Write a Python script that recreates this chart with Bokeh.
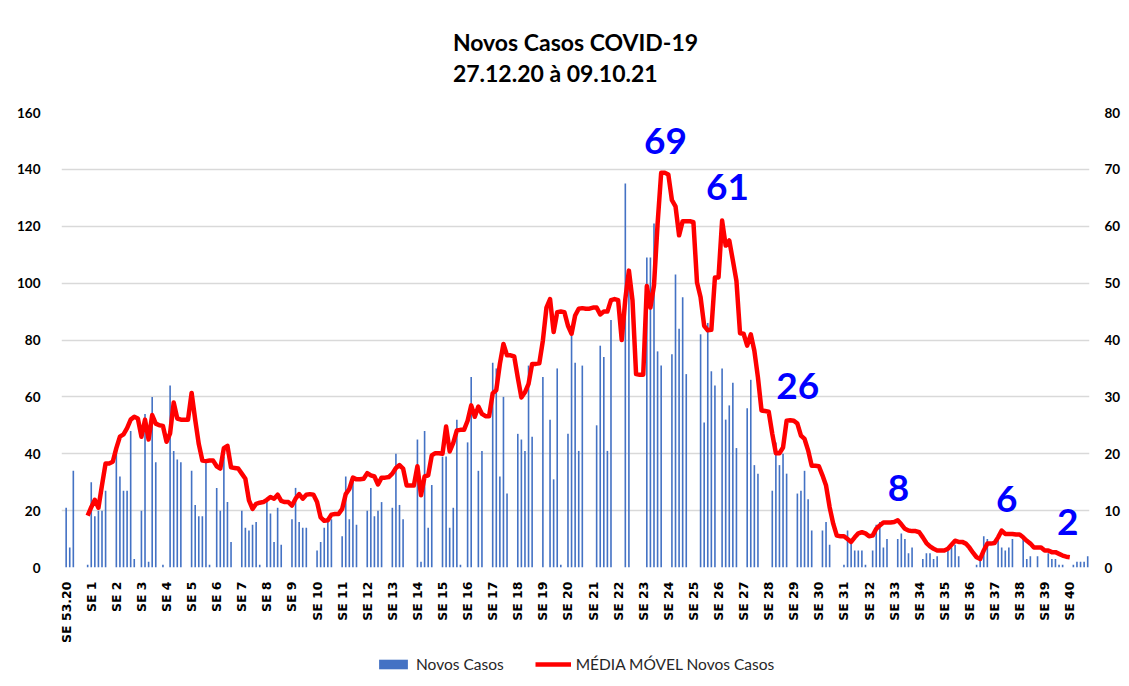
import math
from bokeh.plotting import figure
from bokeh.layouts import column
from bokeh.models import (Range1d, LinearAxis, FixedTicker, Legend, LegendItem,
                          ColumnDataSource)
from bokeh.core.properties import value
from bokeh.embed import file_html
from bokeh.resources import INLINE

# ---------------- data ----------------
week_labels = ["SE 53.20", "SE 1", "SE 2", "SE 3", "SE 4", "SE 5", "SE 6", "SE 7", "SE 8",
               "SE 9", "SE 10", "SE 11", "SE 12", "SE 13", "SE 14", "SE 15", "SE 16",
               "SE 17", "SE 18", "SE 19", "SE 20", "SE 21", "SE 22", "SE 23", "SE 24",
               "SE 25", "SE 26", "SE 27", "SE 28", "SE 29", "SE 30", "SE 31", "SE 32",
               "SE 33", "SE 34", "SE 35", "SE 36", "SE 37", "SE 38", "SE 39", "SE 40"]

novos_casos = [
    21, 7, 34, 0, 0, 0, 1,
    30, 18, 20, 20, 27, 0, 0,
    43, 32, 27, 27, 48, 3, 0,
    20, 54, 2, 60, 37, 0, 1,
    0, 64, 41, 38, 37, 0, 0,
    34, 22, 18, 18, 37, 1, 0,
    28, 20, 39, 23, 9, 0, 0,
    20, 14, 13, 15, 16, 1, 0,
    23, 19, 9, 21, 8, 0, 0,
    17, 28, 16, 14, 14, 0, 0,
    6, 9, 14, 17, 17, 0, 0,
    11, 32, 17, 31, 15, 0, 0,
    20, 28, 18, 20, 23, 0, 0,
    21, 40, 22, 17, 0, 0, 0,
    45, 2, 48, 14, 29, 0, 0,
    39, 39, 14, 21, 52, 1, 0,
    44, 67, 0, 34, 41, 0, 0,
    72, 70, 32, 60, 26, 0, 0,
    47, 45, 41, 71, 46, 0, 0,
    67, 0, 52, 31, 70, 1, 0,
    47, 82, 72, 41, 71, 0, 0,
    0, 50, 78, 74, 41, 87, 0,
    0, 0, 135, 99, 0, 0, 0,
    0, 109, 109, 121, 76, 71, 0,
    0, 75, 103, 84, 95, 68, 0,
    0, 0, 82, 51, 86, 69, 64,
    0, 70, 52, 57, 65, 42, 0,
    0, 56, 66, 36, 33, 0, 0,
    0, 27, 44, 36, 40, 33, 0,
    0, 26, 27, 34, 24, 13, 0,
    0, 13, 16, 8, 0, 0, 0,
    1, 13, 9, 6, 6, 6, 1,
    0, 6, 15, 16, 7, 10, 0,
    0, 10, 12, 10, 5, 7, 0,
    0, 3, 5, 5, 3, 4, 0,
    0, 6, 7, 8, 4, 0, 0,
    0, 0, 1, 3, 11, 10, 0,
    0, 10, 7, 6, 7, 10, 0,
    0, 10, 3, 4, 0, 4, 0,
    0, 5, 3, 3, 1, 1, 0,
    0, 1, 2, 2, 2, 4, 0,
]

nan = float("nan")
media_movel = [
    nan, nan, nan, nan, nan, nan, 9.1,
    10.6, 11.9, 10.5, 14.5, 18.3, 18.3, 18.6,
    21.0, 23.0, 23.4, 24.5, 26.0, 26.5, 26.2,
    23.0, 26.0, 22.5, 26.8, 25.3, 25.0, 24.9,
    22.1, 23.6, 29.0, 26.2, 26.0, 26.0, 26.0,
    30.7, 26.0, 21.7, 18.8, 18.7, 18.8, 18.8,
    17.8, 17.4, 21.0, 21.4, 17.6, 17.5, 17.4,
    16.5, 15.6, 11.8, 10.3, 11.2, 11.4, 11.5,
    11.9, 12.4, 12.1, 12.8, 11.7, 11.5, 11.5,
    10.9, 12.1, 12.9, 12.1, 12.8, 12.9, 12.8,
    11.5, 8.8, 8.2, 8.3, 9.3, 9.4, 9.4,
    10.3, 12.9, 13.8, 15.8, 15.5, 15.5, 15.6,
    16.6, 16.2, 16.0, 14.6, 15.8, 15.8, 15.9,
    16.5, 17.5, 18.0, 17.4, 14.4, 14.4, 14.4,
    17.8, 12.7, 16.0, 16.2, 19.7, 20.1, 20.1,
    20.0, 24.8, 20.4, 21.9, 24.1, 24.2, 24.2,
    25.8, 28.5, 26.5, 28.3, 27.0, 26.6, 26.6,
    30.6, 31.2, 35.8, 39.3, 37.3, 37.3, 37.1,
    33.4, 29.9, 30.8, 32.3, 35.8, 35.8, 35.9,
    39.9, 45.7, 47.2, 41.4, 44.9, 45.0, 44.9,
    42.5, 41.1, 44.3, 45.5, 45.6, 45.5, 45.5,
    45.7, 45.7, 44.5, 45.0, 45.0, 47.0, 47.2,
    47.0, 40.0, 47.2, 52.2, 47.0, 34.0, 33.9,
    33.9, 49.5, 45.7, 49.6, 60.4, 69.4, 69.4,
    69.1, 64.6, 63.5, 58.4, 60.9, 60.9, 60.9,
    60.7, 50.1, 47.5, 42.5, 41.7, 41.8, 51.0,
    51.0, 61.0, 56.6, 57.5, 54.0, 50.4, 41.2,
    41.1, 39.0, 41.0, 38.1, 33.4, 27.6, 27.5,
    27.4, 23.5, 20.1, 20.1, 21.1, 25.8, 25.9,
    25.8, 25.3, 23.2, 22.6, 20.6, 17.9, 17.9,
    17.8, 16.2, 14.4, 10.6, 7.7, 5.6, 5.5,
    5.5, 5.0, 4.5, 5.3, 6.0, 6.2, 6.0,
    5.5, 5.6, 6.8, 7.4, 7.9, 7.9, 7.9,
    8.0, 8.3, 7.6, 6.8, 6.5, 6.4, 6.4,
    6.2, 5.3, 4.3, 3.7, 3.3, 3.0, 3.0,
    3.0, 3.3, 4.0, 4.7, 4.5, 4.5, 4.2,
    3.5, 2.6, 1.8, 1.5, 3.0, 4.2, 4.2,
    4.3, 5.3, 6.5, 5.9, 5.9, 5.9, 5.8,
    5.8, 5.3, 4.7, 4.2, 3.5, 3.5, 3.5,
    3.0, 3.0, 2.7, 2.7, 2.4, 2.1, 1.9,
    1.8, nan, nan, nan, nan, nan, nan,
]

annot_days = [167.2, 184.5, 204.1, 232.2, 262.4, 279.4]
annot_values = [69, 61, 26, 8, 6, 2]

days = list(range(len(novos_casos)))

# ---------------- main figure ----------------
FONT = "Lato"
BAR_COLOR = "#4472C4"
LINE_COLOR = "#FF0000"

p = figure(width=1129, height=650,
           x_range=Range1d(-1.3, 285.5), y_range=Range1d(0, 160),
           output_backend="svg", toolbar_location=None,
           min_border_left=61, min_border_right=40, min_border_top=112,
           min_border_bottom=83)
p.outline_line_color = None
p.background_fill_color = "white"
p.border_fill_color = "white"

p.title.text = "Novos Casos COVID-19\n27.12.20 à 09.10.21"
p.title.align = "center"
p.title.text_font = FONT
p.title.text_font_size = "23px"
p.title.text_font_style = "bold"
p.title.text_color = "#000000"
p.title.text_line_height = 1.1
p.title.standoff = 51

src = ColumnDataSource(dict(day=days, casos=novos_casos, mm=media_movel))

bars = p.vbar(x="day", top="casos", width=0.45, source=src,
              fill_color=BAR_COLOR, line_color=None)

p.extra_y_ranges = {"mm": Range1d(0, 80)}
line = p.line(x="day", y="mm", source=src, y_range_name="mm",
              line_color=LINE_COLOR, line_width=4.5, line_join="round")

ann_src = ColumnDataSource(dict(x=annot_days, y=annot_values,
                                t=[str(v) for v in annot_values]))
p.text(x="x", y="y", text="t", source=ann_src, y_range_name="mm",
       y_offset=-34, text_font=value(FONT), text_font_style="bold",
       text_font_size="37px", text_color="#0000FF",
       text_align="center", text_baseline="alphabetic")

# axes
left_ticks = [0, 20, 40, 60, 80, 100, 120, 140, 160]
right_ticks = [0, 10, 20, 30, 40, 50, 60, 70, 80]
week_ticks = [7 * i for i in range(len(week_labels))]

for ax in p.yaxis:
    ax.ticker = FixedTicker(ticks=left_ticks)
    ax.axis_line_color = None
    ax.major_tick_line_color = None
    ax.minor_tick_line_color = None
    ax.major_label_standoff = 15
    ax.major_label_text_font = FONT
    ax.major_label_text_font_style = "bold"
    ax.major_label_text_font_size = "13.5px"
    ax.major_label_text_color = "#000000"

rax = LinearAxis(y_range_name="mm", ticker=FixedTicker(ticks=right_ticks))
rax.axis_line_color = None
rax.major_tick_line_color = None
rax.minor_tick_line_color = None
rax.major_label_standoff = 9
rax.major_label_text_font = FONT
rax.major_label_text_font_style = "bold"
rax.major_label_text_font_size = "13.5px"
rax.major_label_text_color = "#000000"
p.add_layout(rax, "right")

for ax in p.xaxis:
    ax.ticker = FixedTicker(ticks=week_ticks)
    ax.major_label_overrides = {t: lab for t, lab in zip(week_ticks, week_labels)}
    ax.major_label_orientation = math.pi / 2
    ax.axis_line_color = None
    ax.major_tick_line_color = None
    ax.minor_tick_line_color = None
    ax.major_label_standoff = 8
    ax.major_label_text_font = "DejaVu Sans"
    ax.major_label_text_font_style = "bold"
    ax.major_label_text_font_size = "12.5px"
    ax.major_label_text_color = "#000000"

p.xgrid.grid_line_color = None
p.ygrid.ticker = FixedTicker(ticks=left_ticks)
p.ygrid.grid_line_color = "#D9D9D9"
p.ygrid.grid_line_width = 1.5

# ---------------- legend strip ----------------
pl = figure(width=1129, height=36, x_range=Range1d(0, 1), y_range=Range1d(0, 1),
            x_axis_location=None, y_axis_location=None,
            output_backend="svg", toolbar_location=None, min_border=0)
pl.grid.visible = False
pl.outline_line_color = None
pl.background_fill_color = "white"
pl.border_fill_color = "white"
# legend proxies with zero extent (nothing visible is drawn)
lb = pl.vbar(x=[0.5], top=[0], bottom=[0], width=0.0, fill_color=BAR_COLOR,
             line_color=None)
ll = pl.line(x=[0.5], y=[0.5], line_color=LINE_COLOR, line_width=4.5)

legend = Legend(items=[LegendItem(label="Novos Casos", renderers=[lb]),
                       LegendItem(label="MÉDIA MÓVEL Novos Casos", renderers=[ll])],
                orientation="horizontal", location=(314, 13),
                border_line_color=None, background_fill_alpha=0,
                glyph_width=36, glyph_height=12, spacing=31, label_standoff=5,
                label_text_font=FONT, label_text_font_size="15.5px",
                label_text_color="#262626", margin=0, padding=2)
pl.add_layout(legend, "center")

layout = column(p, pl, spacing=0)
open("out.html", "w").write(file_html(layout, INLINE))
